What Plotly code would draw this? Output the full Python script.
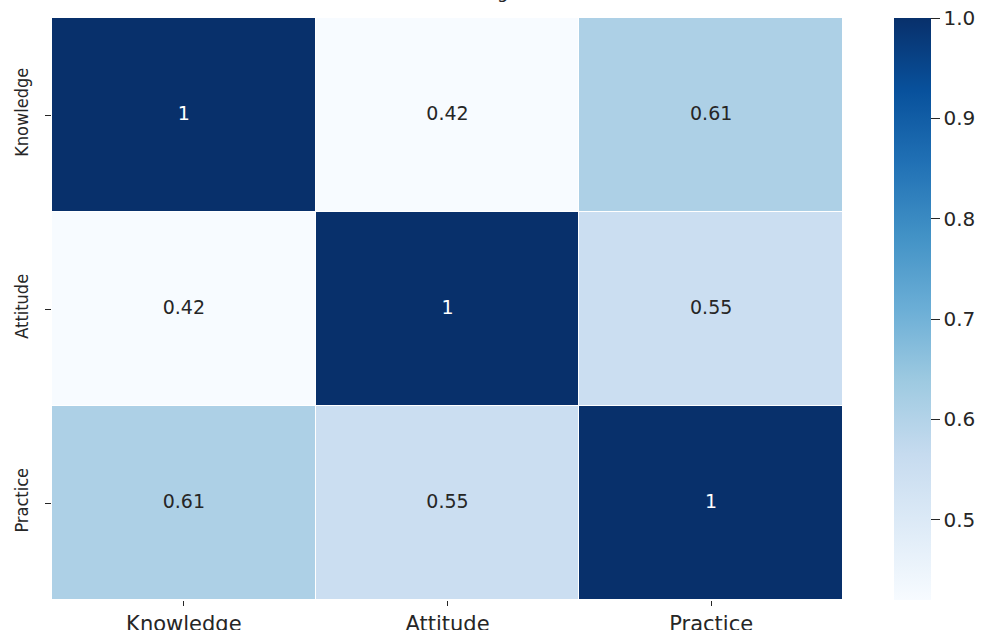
import plotly.graph_objects as go

# KAP domain correlation matrix
labels = ["Knowledge", "Attitude", "Practice"]
corr = [
    [1.00, 0.42, 0.61],
    [0.42, 1.00, 0.55],
    [0.61, 0.55, 1.00],
]
cbar_ticks = [0.5, 0.6, 0.7, 0.8, 0.9, 1.0]
title_text = "Correlation Matrix of KAP Scoring (Total Scores)"

# matplotlib "Blues" colour map
blues = [
    [0.000, "#f7fbff"], [0.125, "#deebf7"], [0.250, "#c6dbef"],
    [0.375, "#9ecae1"], [0.500, "#6baed6"], [0.625, "#4292c6"],
    [0.750, "#2171b5"], [0.875, "#08519c"], [1.000, "#08306b"],
]

zmin = min(min(r) for r in corr)
zmax = max(max(r) for r in corr)
FONT = "DejaVu Sans"
INK = "#262626"

W, H = 984, 630
ML, MR, MT, MB = 52, 141, 18, 30
plot_w = W - ML - MR
plot_h = H - MT - MB

fig = go.Figure()
fig.add_trace(go.Heatmap(
    z=corr, x=labels, y=labels,
    colorscale=blues, zmin=zmin, zmax=zmax + 1e-9,
    xgap=1, ygap=1,
    hoverinfo="skip",
    colorbar=dict(
        thickness=37, thicknessmode="pixels",
        len=plot_h, lenmode="pixels",
        x=(894 - ML) / plot_w, xanchor="left", xpad=0,
        y=0.5, yanchor="middle", ypad=0,
        outlinewidth=0,
        tickvals=cbar_ticks, tickformat=".1f", tickprefix=" ",
        ticks="outside", ticklen=9, tickwidth=1, tickcolor=INK,
        tickfont=dict(family=FONT, size=20, color=INK),
    ),
))

# value labels, coloured for contrast against each cell
xs, ys, txt, cols = [], [], [], []
for i, row_label in enumerate(labels):
    for j, col_label in enumerate(labels):
        v = corr[i][j]
        xs.append(col_label)
        ys.append(row_label)
        txt.append(f"{v:.2g}")
        frac = (v - zmin) / (zmax - zmin)
        cols.append("white" if frac > 0.6 else INK)
fig.add_trace(go.Scatter(
    x=xs, y=ys, mode="text", text=txt,
    textfont=dict(family=FONT, size=19, color=cols),
    hoverinfo="skip", showlegend=False,
))

# title sits above the top edge of the page, only its descenders show
fig.add_annotation(
    text=title_text, xref="paper", yref="paper",
    x=(638 - ML) / plot_w, xanchor="right",
    y=1 + (MT - 4) / plot_h, yanchor="bottom",
    showarrow=False, font=dict(family=FONT, size=18, color=INK),
)

fig.update_xaxes(
    automargin=False,
    showgrid=False, zeroline=False, showline=False,
    ticks="outside", ticklen=5, tickwidth=1, tickcolor=INK,
    tickfont=dict(family=FONT, size=21, color=INK),
)
fig.update_yaxes(
    automargin=False,
    autorange="reversed",
    showgrid=False, zeroline=False, showline=False,
    ticks="outside", ticklen=6, tickwidth=1, tickcolor=INK,
    tickangle=-90, ticklabelstandoff=10,
    tickfont=dict(family="DejaVu Sans Condensed, DejaVu Sans", size=18, color=INK),
)
fig.update_layout(
    width=W, height=H,
    margin=dict(l=ML, r=MR, t=MT, b=MB, pad=0, autoexpand=False),
    paper_bgcolor="white", plot_bgcolor="white",
    showlegend=False,
)

fig.write_html("out.html")
